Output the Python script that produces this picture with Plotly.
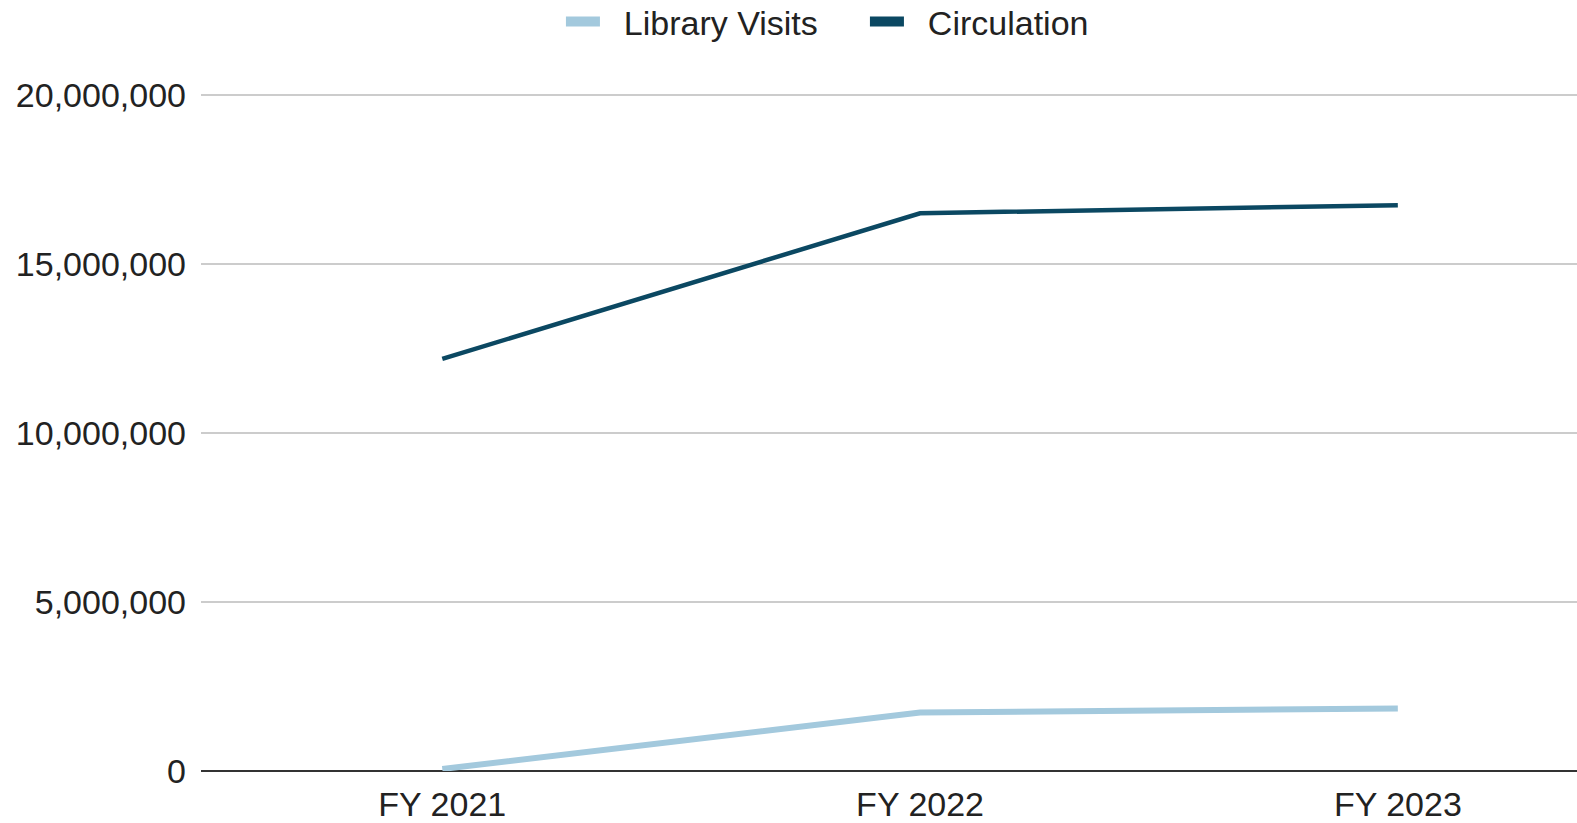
import plotly.graph_objects as go

categories = ["FY 2021", "FY 2022", "FY 2023"]
library_visits = [60000, 1730000, 1850000]
circulation = [12200000, 16510000, 16750000]
y_ticks = [0, 5000000, 10000000, 15000000, 20000000]

light = "#a3c9dd"
dark = "#0b4862"
NB = "\u00a0\u00a0"

fig = go.Figure()
fig.add_trace(go.Scatter(x=categories, y=library_visits, mode="lines",
                         line=dict(color=light, width=6), showlegend=False,
                         name="Library Visits"))
fig.add_trace(go.Scatter(x=categories, y=circulation, mode="lines",
                         line=dict(color=dark, width=4.5), showlegend=False,
                         name="Circulation"))
# legend entries
fig.add_trace(go.Scatter(x=[None], y=[None], mode="lines",
                         line=dict(color=light, width=10), name=NB + "Library Visits"))
fig.add_trace(go.Scatter(x=[None], y=[None], mode="lines",
                         line=dict(color=dark, width=10), name=NB + "Circulation"))

fig.update_layout(
    width=1577, height=823,
    margin=dict(l=201, r=0, t=92, b=52, autoexpand=False),
    paper_bgcolor="white", plot_bgcolor="white",
    font=dict(family="Liberation Sans, Arial, sans-serif", size=34, color="#222222"),
    legend=dict(orientation="h", xref="container", yref="container",
                x=0.3557, xanchor="left", y=0.9733, yanchor="middle",
                itemwidth=34, entrywidth=255, font=dict(size=34), traceorder="normal",
                tracegroupgap=0, itemclick=False),
    xaxis=dict(type="category", range=[-0.505, 2.375], showgrid=False,
               showline=False, zeroline=False, ticks="", ticklabelstandoff=10,
               automargin=False),
    yaxis=dict(range=[0, 20100000], tickvals=y_ticks, tickformat=",d",
               showgrid=True, gridcolor="#cccccc", gridwidth=2,
               zeroline=True, zerolinecolor="#333333", zerolinewidth=2,
               showline=False, ticks="", ticklabelstandoff=14, automargin=False),
)

fig.write_html("out.html")
